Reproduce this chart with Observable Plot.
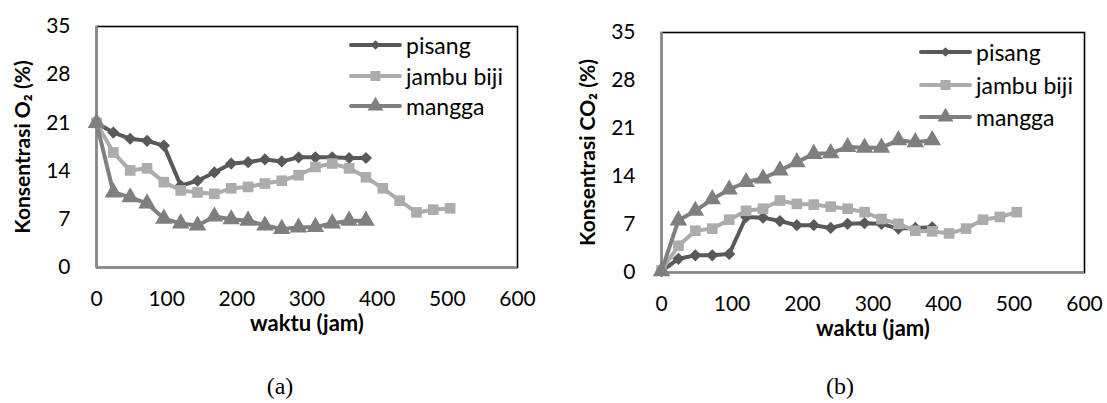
<!DOCTYPE html>
<html>
<head>
<meta charset="utf-8">
<script src="https://cdn.jsdelivr.net/npm/d3@7"></script>
<script src="https://cdn.jsdelivr.net/npm/@observablehq/plot@0.6"></script>
<style>
  html, body { margin: 0; padding: 0; background: #fff; }
  #wrap { position: relative; width: 1107px; height: 403px; overflow: hidden; font-family: Lato, sans-serif; }
  .panel { position: absolute; top: 0; }
  .legend { position: absolute; font-family: Lato, sans-serif; font-size: 23px; color: #000; }
  .legrow { position: absolute; display: flex; align-items: center; white-space: nowrap; }
  .legrow svg { display: block; }
  .legrow span { margin-left: 3px; line-height: 1; }
  .caption { position: absolute; font-family: "Liberation Serif", "Times New Roman", serif; font-size: 24px; transform: translate(-50%, -50%); }
</style>
</head>
<body>
<div id="wrap"></div>
<script>
// ---- data ----
const hours = [0, 24, 48, 72, 96, 120, 144, 168, 192, 216, 240, 264, 288, 312, 336, 360, 384, 408, 432, 456, 480, 504];
const seriesNames = ["pisang", "jambu biji", "mangga"];
const xTicks = [0, 100, 200, 300, 400, 500, 600];
const yTicks = [0, 7, 14, 21, 28, 35];

// (a) O2 concentration (%)
const o2Pisang = [21, 19.6, 18.7, 18.4, 17.7, 11.9, 12.6, 13.8, 15.1, 15.3, 15.7, 15.4, 16.0, 16.0, 16.0, 15.9, 15.9];
const o2Jambu  = [21, 16.7, 14.1, 14.4, 12.4, 11.2, 10.9, 10.7, 11.5, 11.7, 12.2, 12.6, 13.4, 14.6, 15.1, 14.4, 13.1, 11.5, 9.7, 8.0, 8.4, 8.6];
const o2Mangga = [21, 10.9, 10.2, 9.3, 7.1, 6.4, 6.1, 7.4, 7.0, 6.8, 6.1, 5.6, 5.8, 5.9, 6.4, 6.8, 6.8];

// (b) CO2 concentration (%)
const co2Pisang = [0.2, 2.0, 2.5, 2.5, 2.7, 8.1, 8.0, 7.5, 6.9, 6.9, 6.5, 7.1, 7.2, 7.1, 6.4, 6.5, 6.6];
const co2Jambu  = [0.3, 3.9, 6.1, 6.4, 7.7, 9.0, 9.3, 10.5, 10.0, 9.9, 9.6, 9.3, 8.8, 7.8, 7.1, 6.1, 6.0, 5.7, 6.4, 7.7, 8.1, 8.8];
const co2Mangga = [0.2, 7.6, 9.0, 10.7, 12.1, 13.2, 13.7, 14.9, 16.1, 17.3, 17.4, 18.3, 18.2, 18.2, 19.3, 19.0, 19.3];

const xTitle = "waktu (jam)";
const yTitles = ["Konsentrasi O₂ (%)", "Konsentrasi CO₂ (%)"];
const captions = ["(a)", "(b)"];

// ---- styles ----
const colors = {"pisang": "#595959", "jambu biji": "#acacac", "mangga": "#7f7f7f"};
const symbols = {"pisang": "diamond2", "jambu biji": "square", "mangga": "triangle"};
const radii = {"pisang": 5.5, "jambu biji": 6, "mangga": 6.5};
const d3Symbols = {"pisang": d3.symbolDiamond2, "jambu biji": d3.symbolSquare, "mangga": d3.symbolTriangle};

function rows(values, name) {
  return values.map((v, i) => ({h: hours[i], v, s: name}));
}

const panels = [
  {left: 0, width: 553, mL: 96, mR: 36, mT: 26, mB: 83,
   series: [rows(o2Pisang, "pisang"), rows(o2Jambu, "jambu biji"), rows(o2Mangga, "mangga")],
   yTitle: yTitles[0], caption: captions[0], capX: 280,
   legend: {x: 348, text: 407, ys: [45, 76, 106]}},
  {left: 560, width: 547, mL: 101, mR: 23, mT: 32, mB: 78,
   series: [rows(co2Pisang, "pisang"), rows(co2Jambu, "jambu biji"), rows(co2Mangga, "mangga")],
   yTitle: yTitles[1], caption: captions[1], capX: 840,
   legend: {x: 918, text: 977, ys: [52, 85, 117]}}
];

const wrap = document.getElementById("wrap");
const H = 350;

panels.forEach(p => {
  const marks = [
    Plot.frame({stroke: "#000", strokeWidth: 1.6}),
    Plot.axisX(xTicks, {tickSize: 0, tickPadding: 24, label: null}),
    Plot.axisY(yTicks, {tickSize: 0, tickPadding: 26, label: null}),
    Plot.ruleY([0], {stroke: "#878787", strokeWidth: 2.5}),
    Plot.ruleX([0], {stroke: "#878787", strokeWidth: 2.5})
  ];
  p.series.forEach(data => {
    const name = data[0].s;
    marks.push(Plot.line(data, {x: "h", y: "v", stroke: colors[name], strokeWidth: 4, strokeLinejoin: "round", strokeLinecap: "round"}));
    marks.push(Plot.dot(data, {x: "h", y: "v", symbol: () => symbols[name], r: radii[name], fill: colors[name], stroke: "none"}));
  });
  marks.push(Plot.text([xTitle], {text: d => d, frameAnchor: "bottom", dy: 63, fontWeight: "bold", fontSize: 22}));
  marks.push(Plot.text([p.yTitle], {text: d => d, frameAnchor: "left", textAnchor: "middle", dx: -73, rotate: -90, fontWeight: "bold", fontSize: 21}));

  const chart = Plot.plot({
    width: p.width, height: H,
    marginLeft: p.mL, marginRight: p.mR, marginTop: p.mT, marginBottom: p.mB,
    x: {domain: [0, 600], ticks: xTicks},
    y: {domain: [0, 35], ticks: yTicks},
    symbol: {type: "identity"},
    style: {fontFamily: "Lato, sans-serif", fontSize: "21px", color: "#000", background: "transparent", overflow: "visible"},
    marks
  });
  chart.classList.add("panel");
  chart.style.left = p.left + "px";
  wrap.appendChild(chart);

  // legend (inside plot area, top right)
  seriesNames.forEach((name, i) => {
    const row = document.createElement("div");
    row.className = "legrow legend";
    row.style.left = p.legend.x + "px";
    row.style.top = (p.legend.ys[i] - 12) + "px";
    row.style.height = "24px";
    const w = p.legend.text - p.legend.x - 4;
    const svg = d3.create("svg").attr("width", w).attr("height", 24);
    svg.append("line").attr("x1", 3).attr("x2", w - 3).attr("y1", 12).attr("y2", 12)
      .attr("stroke", colors[name]).attr("stroke-width", 4).attr("stroke-linecap", "round");
    const size = name === "pisang" ? 60 : (name === "jambu biji" ? 100 : 110);
    svg.append("path").attr("d", d3.symbol(d3Symbols[name], size)()).attr("transform", `translate(${w / 2},12)`)
      .attr("fill", colors[name]);
    row.appendChild(svg.node());
    const span = document.createElement("span");
    span.textContent = name;
    row.appendChild(span);
    wrap.appendChild(row);
  });

  const cap = document.createElement("div");
  cap.className = "caption";
  cap.textContent = p.caption;
  cap.style.left = p.capX + "px";
  cap.style.top = "386px";
  wrap.appendChild(cap);
});
</script>
</body>
</html>
